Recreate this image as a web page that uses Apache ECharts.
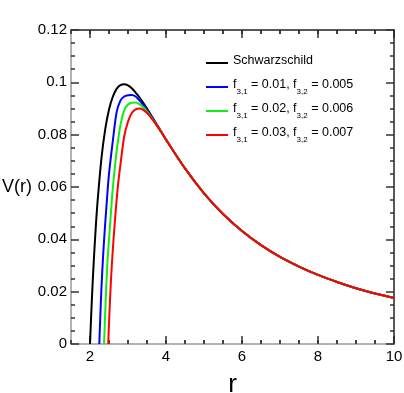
<!DOCTYPE html>
<html lang="en">
<head>
	<meta charset="UTF-8">
	<title>V(r)</title>
	<script src="https://cdn.jsdelivr.net/npm/echarts@6/dist/echarts.min.js"></script>
	<style>
		html, body { margin: 0; padding: 0; background: #fff; }
		#chart { width: 404px; height: 393px; }
	</style>
</head>
<body>
	<div id="chart"></div>
	<script>
		// values
		let schwR = [2.0, 2.05, 2.1, 2.15, 2.2, 2.3, 2.4, 2.5, 2.6, 2.7, 2.8, 2.9, 3.0, 3.1, 3.2, 3.3, 3.4, 3.5, 3.6, 3.7, 3.8];
		let schwV = [0, 0.0173, 0.0319, 0.0442, 0.0546, 0.0708, 0.0820, 0.0896, 0.0945, 0.0975, 0.0989, 0.0993, 0.0988, 0.0977, 0.0961, 0.0943, 0.0922, 0.0900, 0.0876, 0.0853, 0.0829];

		let blueR = [2.245, 2.27, 2.3, 2.35, 2.4, 2.45, 2.5, 2.6, 2.7, 2.8, 2.9, 3.0, 3.1, 3.2, 3.3, 3.4, 3.5, 3.6, 3.7, 3.8];
		let blueV = [0, 0.010, 0.021, 0.035, 0.046, 0.056, 0.065, 0.0775, 0.0885, 0.0930, 0.0946, 0.0951, 0.0952, 0.0946, 0.0931, 0.0914, 0.0894, 0.0873, 0.0851, 0.0828];

		let greenR = [2.37, 2.4, 2.45, 2.5, 2.55, 2.6, 2.7, 2.8, 2.9, 3.0, 3.1, 3.2, 3.3, 3.4, 3.5, 3.6, 3.7, 3.8];
		let greenV = [0, 0.012, 0.029, 0.040, 0.050, 0.0595, 0.0735, 0.0835, 0.0893, 0.0915, 0.0922, 0.0923, 0.0917, 0.0905, 0.0888, 0.0869, 0.0849, 0.0827];

		let redR = [2.48, 2.5, 2.55, 2.6, 2.65, 2.7, 2.75, 2.8, 2.9, 3.0, 3.1, 3.2, 3.3, 3.4, 3.5, 3.6, 3.7, 3.8];
		let redV = [0, 0.008, 0.024, 0.036, 0.046, 0.055, 0.0625, 0.0685, 0.0793, 0.0850, 0.0883, 0.0897, 0.0900, 0.0895, 0.0883, 0.0866, 0.0847, 0.0826];

		// all curves coincide past r ~ 3.9
		let tailR = [3.9, 4, 4.5, 5, 5.5, 6, 6.5, 7, 7.5, 8, 8.5, 9, 9.5, 10];
		let tailV = [0.0805, 0.0781, 0.0671, 0.0576, 0.0497, 0.0432, 0.0378, 0.0333, 0.0296, 0.0264, 0.0237, 0.0213, 0.0193, 0.0176];

		let seriesNames = ['Schwarzschild', 'f31=0.01', 'f31=0.02', 'f31=0.03'];
		let legendLabels = [
			'{n|Schwarzschild}{s| }',
			'{n|f}{s|3,1}{n| = 0.01, f}{s|3,2}{n| = 0.005}',
			'{n|f}{s|3,1}{n| = 0.02, f}{s|3,2}{n| = 0.006}',
			'{n|f}{s|3,1}{n| = 0.03, f}{s|3,2}{n| = 0.007}'
		];
		let colors = ['#000000', '#0000ff', '#11ee11', '#ff0000'];

		let xMajor = [2, 4, 6, 8, 10];

		function pairs(rs, vs) {
			return rs.concat(tailR).map((r, i) => [r, vs.concat(tailV)[i]]);
		}
		let curves = [pairs(schwR, schwV), pairs(blueR, blueV), pairs(greenR, greenV), pairs(redR, redV)];

		let font = 'Liberation Sans, Arial, sans-serif';
		let tickColor = '#333';
		let lowColor = '#999';   // bottom & left frame
		let highColor = '#222';  // top & right frame

		function tick(len, extra) {
			return Object.assign({ show: true, inside: true, length: len, lineStyle: { color: tickColor, width: 1.5 } }, extra || {});
		}

		let W = 404, H = 393;
		let box = { left: 71, right: 10, top: 30, bottom: 49, outerBoundsMode: 'none' };
		let plotBottom = H - box.bottom;

		// thin strips along the top and bottom frame; their split lines act as the r ticks
		let strips = [
			{ top: plotBottom - 8, height: 8, major: true },
			{ top: plotBottom - 4, height: 4, major: false },
			{ top: box.top, height: 8, major: true },
			{ top: box.top, height: 4, major: false }
		];

		let grids = [Object.assign({}, box)].concat(strips.map(s => ({
			left: box.left, right: box.right, top: s.top, height: s.height, outerBoundsMode: 'none'
		})));

		let stripX = strips.map((s, k) => Object.assign({
			type: 'value', gridIndex: k + 1, min: 1.5, max: 10,
			axisLine: { show: false, onZero: false },
			axisLabel: { show: false },
			splitLine: { show: true, lineStyle: { color: tickColor, width: 1.5 } }
		}, s.major
			? { axisTick: { show: false, customValues: xMajor } }
			: { interval: 0.5, axisTick: { show: false } }));

		let stripY = strips.map((s, k) => ({
			type: 'value', gridIndex: k + 1, min: 0, max: 1, show: false, splitLine: { show: false }
		}));

		let stripSeries = strips.map((s, k) => ({
			type: 'line', xAxisIndex: k + 2, yAxisIndex: k + 2, data: [[2, 0], [10, 0]],
			symbol: 'none', silent: true, lineStyle: { opacity: 0 }
		}));

		let chart = echarts.init(document.getElementById('chart'));

		chart.setOption({
			animation: false,
			textStyle: { fontFamily: font },
			grid: grids,
			legend: {
				orient: 'vertical',
				left: 206,
				top: 54,
				padding: 0,
				icon: 'rect',
				itemWidth: 22,
				itemHeight: 2,
				itemGap: 6,
				data: seriesNames,
				formatter: name => legendLabels[seriesNames.indexOf(name)],
				textStyle: {
					fontFamily: font,
					rich: {
						n: { fontSize: 12.5, color: '#000', fontFamily: font, lineHeight: 18, verticalAlign: 'top' },
						s: { fontSize: 8, color: '#000', fontFamily: font, lineHeight: 8, padding: [10, 0, 0, 0], verticalAlign: 'top' }
					}
				}
			},
			xAxis: [
				{
					type: 'value', gridIndex: 0, position: 'bottom', min: 1.5, max: 10, interval: 0.5,
					name: 'r', nameLocation: 'middle', nameGap: 28,
					nameTextStyle: { fontSize: 26, color: '#000', fontFamily: font },
					axisLine: { show: true, onZero: false, lineStyle: { color: lowColor, width: 1.5 } },
					axisTick: tick(4),
					axisLabel: { customValues: xMajor, fontSize: 15, color: '#000', margin: 5 },
					splitLine: { show: false }
				},
				{
					type: 'value', gridIndex: 0, position: 'top', min: 1.5, max: 10, interval: 0.5,
					axisLine: { show: true, onZero: false, lineStyle: { color: highColor, width: 1.5 } },
					axisTick: tick(4),
					axisLabel: { show: false },
					splitLine: { show: false }
				}
			].concat(stripX),
			yAxis: [
				{
					type: 'value', gridIndex: 0, position: 'left', min: 0, max: 0.12, interval: 0.02,
					name: 'V(r)', nameLocation: 'middle', nameRotate: 0, nameGap: 37,
					nameTextStyle: { fontSize: 18, color: '#000', fontFamily: font, align: 'right', verticalAlign: 'middle' },
					axisLine: { show: true, onZero: false, lineStyle: { color: lowColor, width: 1.5 } },
					axisTick: tick(8),
					minorTick: { show: true, splitNumber: 4, length: 4, lineStyle: { color: tickColor, width: 1.5 } },
					axisLabel: { fontSize: 15, color: '#000', margin: 4 },
					splitLine: { show: false }
				},
				{
					type: 'value', gridIndex: 0, position: 'right', min: 0, max: 0.12, interval: 0.02,
					axisLine: { show: true, onZero: false, lineStyle: { color: highColor, width: 1.5 } },
					axisTick: tick(8),
					minorTick: { show: true, splitNumber: 4, length: 4, lineStyle: { color: tickColor, width: 1.5 } },
					axisLabel: { show: false },
					splitLine: { show: false }
				}
			].concat(stripY),
			series: curves.map((data, i) => ({
				name: seriesNames[i],
				type: 'line',
				xAxisIndex: 0,
				yAxisIndex: 0,
				data: data,
				showSymbol: false,
				symbol: 'none',
				smooth: 0.3,
				clip: true,
				z: 3,
				itemStyle: { color: colors[i] },
				lineStyle: { color: colors[i], width: 2 }
			})).concat(stripSeries)
		});
	</script>
</body>
</html>
